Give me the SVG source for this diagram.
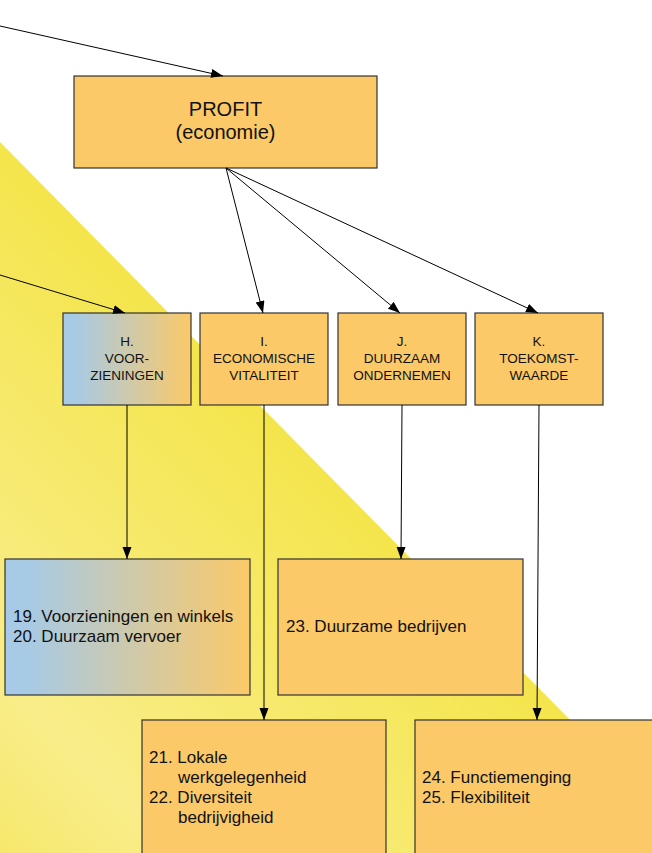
<svg xmlns="http://www.w3.org/2000/svg" width="652" height="853" viewBox="0 0 652 853">
<defs>
<linearGradient id="bg" gradientUnits="userSpaceOnUse" x1="0" y1="853" x2="355" y2="502">
<stop offset="0" stop-color="#F6E86C"/>
<stop offset="0.25" stop-color="#F9ED8A"/>
<stop offset="1" stop-color="#F4E54C"/>
</linearGradient>
<linearGradient id="blueOrange" x1="0" y1="0" x2="1" y2="0">
<stop offset="0" stop-color="#A6CAE8"/>
<stop offset="0.1" stop-color="#A8CAE4"/>
<stop offset="1" stop-color="#FBC968"/>
</linearGradient>
<marker id="arr" markerUnits="userSpaceOnUse" markerWidth="13" markerHeight="10" refX="12" refY="4.5" orient="auto">
<path d="M0,0 L12,4.5 L0,9 z" fill="#000"/>
</marker>
<style>
.box{fill:#FBC968;stroke:#333;stroke-width:1.2}
.grad{fill:url(#blueOrange);stroke:#333;stroke-width:1.2}
.t{font-family:"Liberation Sans",Arial,sans-serif;fill:#111}
.big{font-size:20px;text-anchor:middle}
.small{font-size:13.5px;text-anchor:middle}
.item{font-size:17px}
.conn line{stroke:#000;stroke-width:1;marker-end:url(#arr)}
</style>
</defs>
<rect width="652" height="853" fill="#fff"/>
<polygon points="0,142 652,803 652,853 0,853" fill="url(#bg)"/>

<g id="profit">
<rect class="box" x="74" y="76" width="303" height="92"/>
<text class="t big" x="225.5" y="116">PROFIT</text>
<text class="t big" x="225.5" y="139">(economie)</text>
</g>

<g id="nodeH">
<rect class="grad" x="63" y="313" width="128" height="92"/>
<text class="t small" x="127" y="346">H.</text>
<text class="t small" x="127" y="363">VOOR-</text>
<text class="t small" x="127" y="380">ZIENINGEN</text>
</g>

<g id="nodeI">
<rect class="box" x="200" y="313" width="128" height="92"/>
<text class="t small" x="264" y="346">I.</text>
<text class="t small" x="264" y="363">ECONOMISCHE</text>
<text class="t small" x="264" y="380">VITALITEIT</text>
</g>

<g id="nodeJ">
<rect class="box" x="338" y="313" width="128" height="92"/>
<text class="t small" x="402" y="346">J.</text>
<text class="t small" x="402" y="363">DUURZAAM</text>
<text class="t small" x="402" y="380">ONDERNEMEN</text>
</g>

<g id="nodeK">
<rect class="box" x="475" y="313" width="128" height="92"/>
<text class="t small" x="539" y="346">K.</text>
<text class="t small" x="539" y="363">TOEKOMST-</text>
<text class="t small" x="539" y="380">WAARDE</text>
</g>

<g id="node19">
<rect class="grad" x="5" y="559" width="245" height="136"/>
<text class="t item" x="13" y="622">19. Voorzieningen en winkels</text>
<text class="t item" x="13" y="642">20. Duurzaam vervoer</text>
</g>

<g id="node23">
<rect class="box" x="278" y="559" width="245" height="136"/>
<text class="t item" x="286" y="632">23. Duurzame bedrijven</text>
</g>

<g id="node21">
<rect class="box" x="142" y="720" width="244" height="150"/>
<text class="t item" x="149" y="763">21. Lokale</text>
<text class="t item" x="178" y="783">werkgelegenheid</text>
<text class="t item" x="149" y="803">22. Diversiteit</text>
<text class="t item" x="178" y="823">bedrijvigheid</text>
</g>

<g id="node24">
<rect class="box" x="415" y="720" width="250" height="150"/>
<text class="t item" x="422" y="783">24. Functiemenging</text>
<text class="t item" x="422" y="803">25. Flexibiliteit</text>
</g>

<g id="connectors" class="conn">
<line x1="0" y1="26" x2="223" y2="76"/>
<line x1="0" y1="275" x2="125" y2="313"/>
<line x1="226" y1="168" x2="263" y2="313"/>
<line x1="226" y1="168" x2="400" y2="313"/>
<line x1="226" y1="168" x2="538" y2="313"/>
<line x1="127" y1="405" x2="127" y2="559"/>
<line x1="264" y1="405" x2="264" y2="720"/>
<line x1="402" y1="405" x2="401" y2="559"/>
<line x1="539" y1="405" x2="537" y2="720"/>
</g>
</svg>
